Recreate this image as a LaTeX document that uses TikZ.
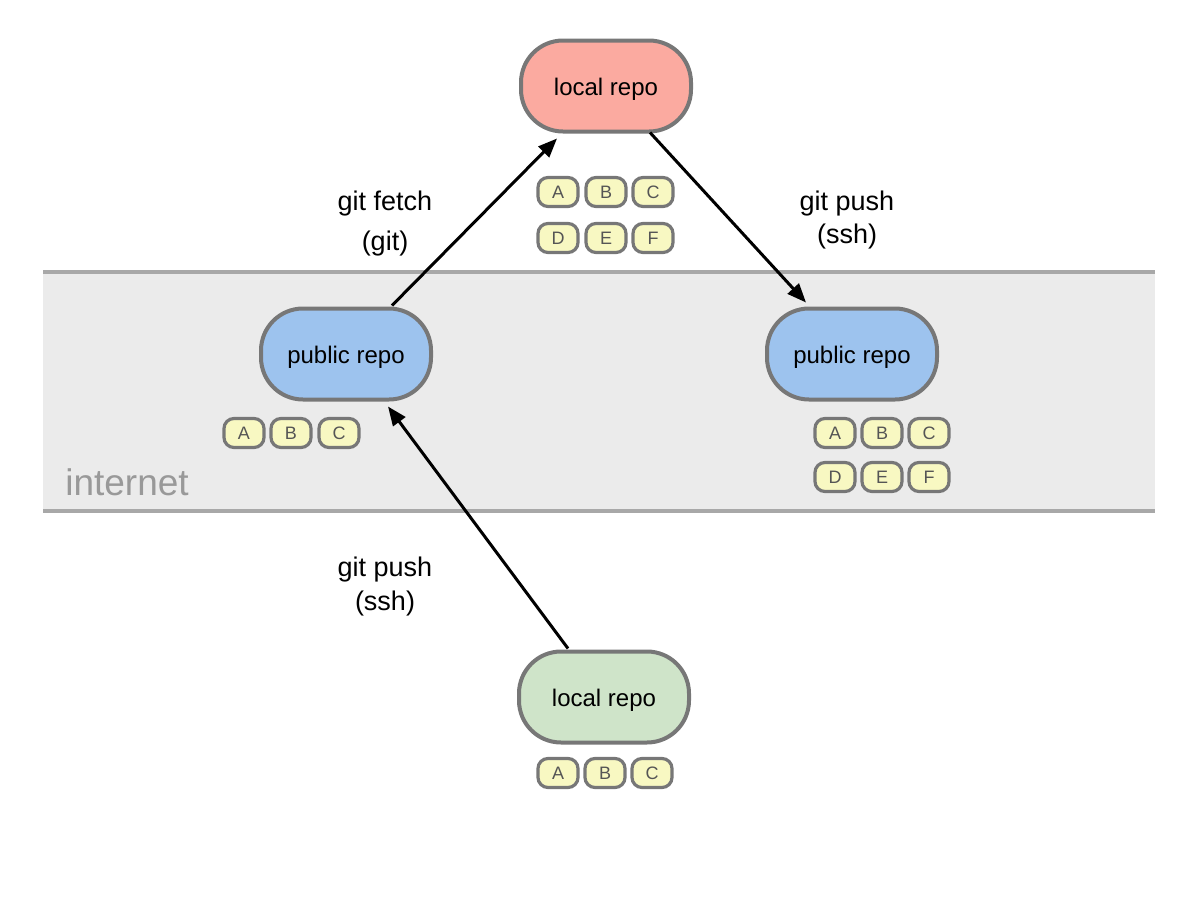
\documentclass[tikz,border=0pt]{standalone}
\usepackage{fontspec}
\setmainfont{Liberation Sans}
\usetikzlibrary{arrows.meta,calc}
\definecolor{edgegray}{HTML}{777777}
\definecolor{bandfill}{HTML}{EBEBEB}
\definecolor{bandline}{HTML}{A8A8A8}
\definecolor{redfill}{HTML}{FBAAA0}
\definecolor{bluefill}{HTML}{9DC3EE}
\definecolor{greenfill}{HTML}{CFE4C9}
\definecolor{yelfill}{HTML}{F8F8C2}
\definecolor{lettergray}{HTML}{555555}
\definecolor{netgray}{HTML}{999999}
\tikzset{
  repo/.style={draw=edgegray, line width=4pt, rounded corners=42pt,
    minimum width=170pt, minimum height=91pt, inner sep=0pt,
    text height=23pt, text depth=5pt, font=\fontsize{24}{28}\selectfont},
  commit/.style={draw=edgegray, line width=3.2pt, rounded corners=10pt, fill=yelfill,
    minimum width=40pt, minimum height=29pt, inner sep=0pt, text=lettergray,
    font=\fontsize{18}{21}\selectfont},
  flow/.style={line width=3pt, -{Triangle[length=19pt,width=15pt]}},
  lbl/.style={font=\fontsize{27}{31}\selectfont, align=center}
}
\begin{document}
\begin{tikzpicture}[x=1pt,y=-1pt]
\useasboundingbox (0,0) rectangle (1200,900);
% internet band
\fill[bandfill] (43,272) rectangle (1155,511);
\draw[bandline, line width=3.5pt] (43,272) -- (1155,272);
\draw[bandline, line width=3.5pt] (43,511) -- (1155,511);
\node[text=netgray, font=\fontsize{37}{42}\selectfont] (net) at (127,482) {internet};

% repos
\node[repo, fill=redfill] (locT) at (606,86) {local repo};
\node[repo, fill=bluefill] (pubL) at (346,354) {public repo};
\node[repo, fill=bluefill] (pubR) at (852,354) {public repo};
\node[repo, fill=greenfill] (locB) at (604,697) {local repo};

% commits top
\node[commit] (tA) at (558,192) {A};
\node[commit] (tB) at (606,192) {B};
\node[commit] (tC) at (653,192) {C};
\node[commit] (tD) at (558,238) {D};
\node[commit] (tE) at (606,238) {E};
\node[commit] (tF) at (653,238) {F};
% commits left public
\node[commit] (lA) at (244,433) {A};
\node[commit] (lB) at (291,433) {B};
\node[commit] (lC) at (339,433) {C};
% commits right public
\node[commit] (rA) at (835,433) {A};
\node[commit] (rB) at (882,433) {B};
\node[commit] (rC) at (929,433) {C};
\node[commit] (rD) at (835,477) {D};
\node[commit] (rE) at (882,477) {E};
\node[commit] (rF) at (929,477) {F};
% commits bottom
\node[commit] (bA) at (558,773) {A};
\node[commit] (bB) at (605,773) {B};
\node[commit] (bC) at (652,773) {C};

% arrows
\draw[flow] ($(pubL.north)+(46,-1)$) -- ($(locT.south)+(-49,5)$);
\draw[flow] ($(locT.south)+(44,-1)$) -- ($(pubR.north)+(-46,-4)$);
\draw[flow] ($(locB.north)+(-36,-1)$) -- ($(pubL.south)+(42,5)$);

% labels
\node[lbl] (l1a) at (385,204) {git fetch};
\node[lbl] (l1b) at (385,244) {(git)};
\node[lbl] (l2a) at (847,204) {git push};
\node[lbl] (l2b) at (847,237) {(ssh)};
\node[lbl] (l3a) at (385,570) {git push};
\node[lbl] (l3b) at (385,604) {(ssh)};
\end{tikzpicture}
\end{document}
